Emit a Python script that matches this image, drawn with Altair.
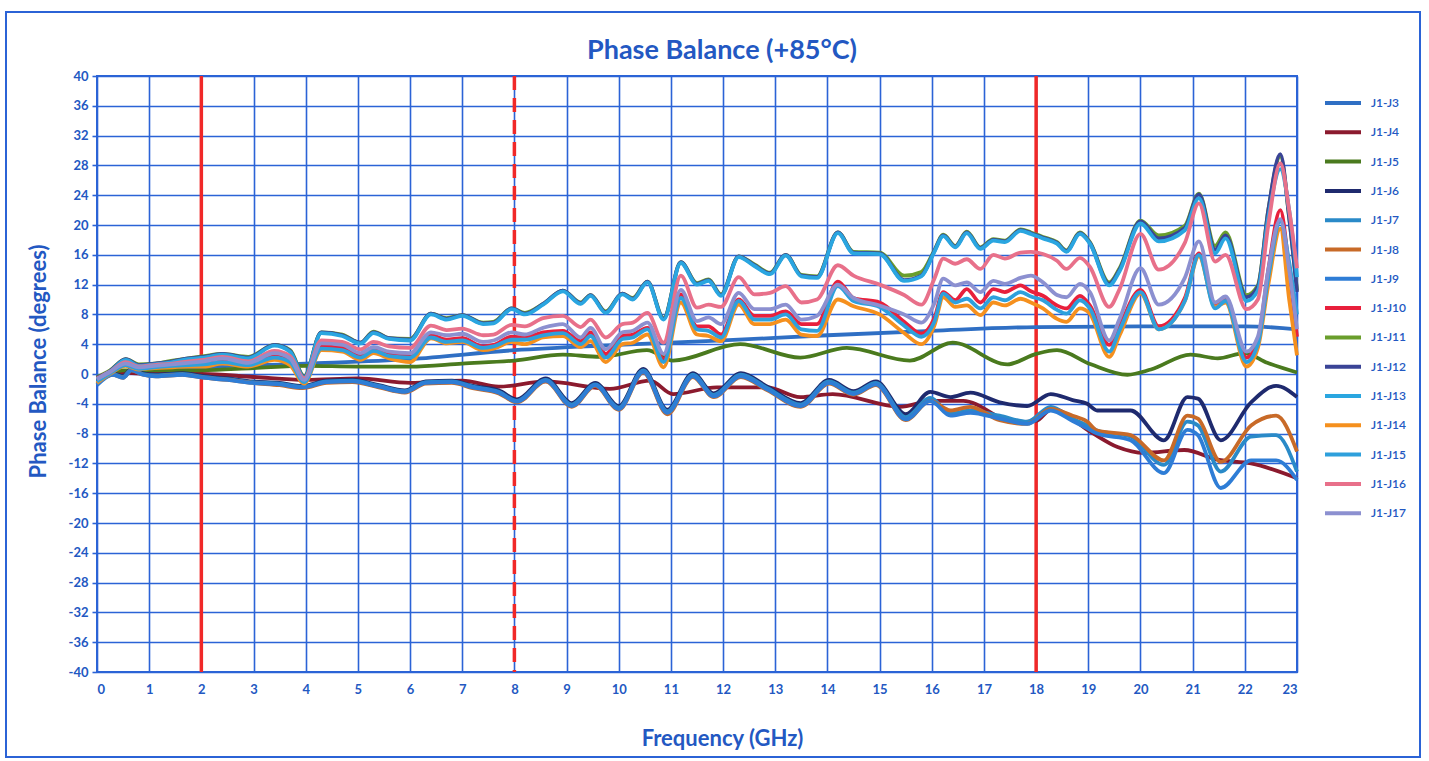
import altair as alt
import pandas as pd

TITLE = "Phase Balance (+85°C)"
SERIES = ["J1-J3", "J1-J4", "J1-J5", "J1-J6", "J1-J7", "J1-J8", "J1-J9", "J1-J10",
          "J1-J11", "J1-J12", "J1-J13", "J1-J14", "J1-J15", "J1-J16", "J1-J17"]
COLORS = ["#2f6fc4", "#8b1a2e", "#4a7a1e", "#1f2a6e", "#2a8ac8", "#c86a28", "#2e7dd6", "#e8203c",
          "#6a9e2c", "#3a4496", "#2aa6e0", "#f5901e", "#2ea0dc", "#e8708a", "#8c90d0"]

X_TICKS = list(range(0, 24))
Y_TICKS = list(range(-40, 41, 4))
REF_SOLID = [2, 18]
REF_DASH = [8]

# upper group frequency grid (GHz)
F_UP = [0.0, 0.25, 0.55, 0.8, 1.1, 1.45, 1.75, 2.05, 2.4, 2.9, 3.4, 3.7, 3.97, 4.3, 4.7, 5.05, 5.3, 5.6, 6.0,
        6.4, 6.7, 7.0, 7.4, 7.6, 7.95, 8.2, 8.55, 8.93, 9.27, 9.46, 9.75, 10.07, 10.27, 10.55, 10.86, 11.19,
        11.5, 11.72, 11.96, 12.3, 12.6, 12.9, 13.2, 13.5, 13.8, 14.2, 14.5, 15.0, 15.47, 15.8, 16.05, 16.22,
        16.45, 16.67, 16.93, 17.18, 17.4, 17.7, 17.9, 18.13, 18.4, 18.58, 18.84, 19.03, 19.4, 19.6, 20.0,
        20.35, 20.85, 21.12, 21.43, 21.63, 22.03, 22.25, 22.45, 22.68, 22.85, 23.0]

J10 = [-0.8, 0.2, 1.3, 0.8, 1.0, 1.2, 1.3, 1.4, 1.8, 1.3, 2.4, 1.8, -1.0, 3.7, 3.5, 2.4, 3.3, 2.6, 2.4, 5.2,
       4.6, 4.8, 3.7, 3.9, 5.0, 4.9, 5.6, 5.8, 4.4, 5.6, 2.7, 5.1, 5.3, 6.2, 2.0, 10.7, 6.4, 6.4, 5.3, 10.0,
       7.8, 7.8, 8.4, 6.7, 6.7, 12.4, 10.2, 9.6, 7.0, 5.4, 7.5, 11.0, 9.9, 11.4, 9.6, 11.4, 11.0, 11.9, 11.1, 10.5,
       9.2, 8.8, 10.5, 9.2, 3.9, 6.5, 11.3, 6.4, 10.2, 16.2, 9.3, 10.2, 2.2, 4.5, 14.0, 22.0, 14.0, 5.0]
J11 = [-0.4, 0.5, 2.0, 1.3, 1.4, 1.8, 2.1, 2.4, 2.7, 2.3, 3.9, 3.2, -0.3, 5.6, 5.3, 4.2, 5.7, 4.8, 4.7, 8.1,
       7.5, 7.9, 6.9, 7.0, 8.8, 8.2, 9.4, 11.2, 9.6, 10.6, 8.4, 10.8, 10.2, 12.4, 7.5, 15.0, 12.2, 12.7, 10.7, 15.8,
       14.7, 13.6, 16.0, 13.3, 13.1, 19.0, 16.4, 16.3, 13.2, 13.7, 16.6, 18.7, 17.2, 19.1, 17.0, 18.1, 17.9, 19.4, 19.0, 18.4,
       17.7, 16.6, 19.0, 17.7, 12.3, 14.2, 20.6, 18.6, 19.9, 24.2, 17.2, 19.0, 10.6, 11.9, 22.0, 29.2, 21.0, 11.2]
J12 = [-0.5, 0.4, 2.0, 1.2, 1.4, 1.7, 2.1, 2.3, 2.7, 2.2, 3.9, 3.1, -0.4, 5.6, 5.2, 4.2, 5.6, 4.8, 4.6, 8.1,
       7.4, 7.9, 6.8, 6.9, 8.8, 8.1, 9.4, 11.2, 9.5, 10.6, 8.3, 10.8, 10.1, 12.4, 7.4, 15.0, 12.1, 12.6, 10.6, 15.8,
       14.6, 13.5, 16.0, 13.2, 13.0, 19.0, 16.3, 16.2, 12.6, 13.2, 16.5, 18.6, 17.1, 19.0, 16.9, 18.0, 17.8, 19.3, 18.9, 18.3,
       17.6, 16.5, 18.9, 17.6, 12.1, 14.0, 20.5, 18.2, 19.6, 24.1, 16.7, 18.6, 10.3, 11.7, 22.0, 29.5, 21.0, 11.0]
J13 = [-0.8, 0.3, 1.9, 1.1, 1.3, 1.6, 2.0, 2.2, 2.6, 2.1, 3.8, 3.0, -0.5, 5.5, 5.1, 4.1, 5.5, 4.7, 4.5, 8.0,
       7.3, 7.8, 6.7, 6.8, 8.7, 8.0, 9.3, 11.1, 9.4, 10.5, 8.2, 10.7, 10.0, 12.3, 7.3, 14.9, 12.0, 12.5, 10.5, 15.7,
       14.5, 13.4, 15.9, 13.1, 12.9, 18.9, 16.2, 16.1, 12.5, 13.1, 16.4, 18.5, 17.0, 18.9, 16.8, 17.9, 17.7, 19.2, 18.8, 18.2,
       17.5, 16.4, 18.8, 17.5, 11.9, 13.8, 20.2, 17.8, 19.3, 23.6, 16.2, 18.2, 9.8, 11.2, 21.0, 27.5, 22.0, 13.0]
J14 = [-1.2, 0.0, 1.1, 0.6, 0.8, 0.9, 1.0, 1.0, 1.4, 1.0, 1.9, 1.2, -1.3, 3.2, 3.0, 1.9, 2.8, 2.1, 1.6, 4.8,
       4.1, 4.3, 3.2, 3.4, 4.3, 4.0, 4.9, 5.1, 3.6, 4.4, 1.6, 4.0, 4.2, 5.3, 0.9, 9.6, 5.3, 5.1, 4.4, 9.3,
       6.7, 6.7, 7.3, 5.3, 5.1, 10.0, 9.1, 8.0, 5.5, 4.0, 6.5, 10.3, 9.0, 9.2, 7.9, 9.6, 9.2, 10.1, 9.6, 8.8,
       7.4, 7.0, 8.8, 8.1, 2.3, 5.2, 10.8, 6.0, 9.8, 15.8, 9.0, 9.6, 1.0, 3.5, 12.0, 19.5, 10.0, 2.5]
J15 = [-1.0, 0.1, 1.2, 0.7, 0.9, 1.1, 1.2, 1.3, 1.6, 1.2, 2.2, 1.6, -1.1, 3.4, 3.2, 2.2, 3.1, 2.4, 2.2, 4.9,
       4.3, 4.5, 3.5, 3.7, 4.6, 4.6, 5.2, 5.5, 4.0, 5.1, 2.2, 4.7, 4.9, 6.0, 1.6, 10.2, 6.0, 5.8, 4.9, 9.8,
       7.3, 7.3, 8.0, 6.0, 5.8, 11.8, 9.8, 9.0, 6.5, 5.0, 7.0, 10.8, 9.6, 10.1, 8.8, 10.3, 9.9, 11.0, 10.4, 9.9,
       8.6, 8.1, 9.9, 8.8, 3.0, 5.9, 11.0, 6.0, 9.8, 16.0, 8.8, 9.8, 1.6, 4.0, 13.0, 20.5, 15.0, 8.0]
J16 = [-0.6, 0.3, 1.6, 1.0, 1.2, 1.4, 1.7, 1.9, 2.3, 1.7, 3.1, 2.4, -0.6, 4.5, 4.3, 3.3, 4.3, 3.7, 3.5, 6.5,
       5.9, 6.1, 5.2, 5.3, 6.6, 6.4, 7.5, 7.8, 6.3, 7.3, 4.9, 6.7, 6.9, 8.2, 4.2, 13.2, 8.9, 9.3, 9.0, 13.0,
       10.7, 10.9, 11.8, 9.6, 10.0, 14.6, 13.2, 12.0, 10.6, 9.3, 12.8, 15.5, 14.8, 15.4, 14.1, 16.0, 15.5, 16.3, 16.4, 16.1,
       15.2, 14.1, 15.6, 14.4, 9.0, 11.4, 18.8, 14.0, 17.6, 22.9, 15.1, 16.0, 8.7, 10.0, 20.0, 28.3, 22.0, 14.2]
J17 = [-0.7, 0.3, 1.4, 0.9, 1.1, 1.3, 1.5, 1.7, 2.1, 1.5, 2.8, 2.1, -0.8, 4.1, 3.9, 2.8, 3.6, 3.0, 2.8, 5.6,
       5.2, 5.4, 4.3, 4.5, 5.6, 5.3, 6.2, 6.7, 4.9, 6.2, 3.3, 5.6, 5.8, 6.9, 2.7, 11.3, 7.1, 7.6, 6.7, 10.9,
       8.7, 8.7, 9.3, 7.3, 7.8, 12.0, 10.2, 9.2, 8.0, 6.9, 9.5, 12.8, 11.9, 12.3, 11.0, 12.5, 12.1, 12.9, 13.2, 12.3,
       10.6, 10.3, 12.1, 11.0, 4.5, 7.4, 14.2, 9.3, 12.9, 17.8, 9.6, 10.4, 3.0, 5.0, 14.0, 20.8, 14.0, 6.0]

# lower group frequency grid (GHz)
F_LO = [0.0, 0.3, 0.5, 0.66, 0.88, 1.13, 1.64, 2.03, 2.5, 2.98, 3.5, 3.94, 4.4, 4.9, 5.4, 5.9, 6.3, 6.8, 7.2,
        7.7, 8.05, 8.6, 9.1, 9.55, 10.0, 10.47, 10.93, 11.42, 11.82, 12.34, 12.85, 13.49, 14.03, 14.5, 14.93,
        15.5, 15.97, 16.36, 16.74, 17.3, 17.83, 18.28, 18.7, 18.98, 19.17, 19.81, 20.45, 20.9, 21.1, 21.54,
        22.12, 22.6, 23.0]
J6 = [-1.0, 0.1, -0.3, 0.7, 0.1, -0.1, 0.1, -0.3, -0.6, -1.0, -1.2, -1.6, -0.9, -0.8, -1.5, -2.2, -1.0, -0.9,
      -1.6, -2.2, -3.4, -0.6, -3.9, -1.2, -4.3, 0.7, -4.8, 0.1, -2.6, 0.1, -1.7, -3.9, -0.8, -2.3, -1.0, -5.4,
      -2.4, -3.1, -2.5, -3.8, -4.3, -2.7, -3.5, -4.0, -4.9, -4.9, -8.9, -3.1, -3.3, -8.9, -3.8, -1.6, -3.1]
J7 = [-1.2, 0.0, -0.4, 0.6, 0.0, -0.2, 0.0, -0.4, -0.7, -1.1, -1.3, -1.7, -1.0, -0.9, -1.6, -2.3, -1.1, -1.0,
      -1.7, -2.4, -3.6, -0.8, -4.1, -1.4, -4.5, 0.5, -5.0, -0.1, -2.8, -0.1, -1.9, -4.1, -1.0, -2.5, -1.2, -5.8,
      -3.2, -5.3, -4.9, -5.6, -6.4, -4.4, -6.0, -6.9, -7.6, -8.4, -12.2, -6.4, -6.9, -13.1, -8.4, -8.2, -13.1]
J8 = [-1.3, -0.1, -0.5, 0.5, -0.1, -0.3, -0.1, -0.5, -0.8, -1.2, -1.5, -1.9, -1.2, -1.1, -1.8, -2.5, -1.3, -1.2,
      -1.9, -2.6, -3.8, -1.0, -4.4, -1.6, -4.8, 0.2, -5.4, -0.4, -3.1, -0.4, -2.2, -4.4, -1.3, -2.8, -1.5, -6.2,
      -3.6, -4.9, -4.4, -6.2, -6.7, -4.7, -5.6, -6.4, -7.6, -8.2, -11.6, -5.6, -6.0, -11.8, -6.9, -5.6, -10.4]
J9 = [-1.5, -0.1, -0.5, 0.5, -0.1, -0.3, -0.1, -0.5, -0.8, -1.2, -1.4, -1.8, -1.1, -1.0, -1.7, -2.4, -1.2, -1.1,
      -1.8, -2.5, -3.7, -0.9, -4.3, -1.5, -4.7, 0.3, -5.2, -0.3, -3.0, -0.3, -2.1, -4.3, -1.2, -2.7, -1.4, -6.1,
      -3.6, -5.6, -5.2, -6.0, -6.7, -4.9, -6.3, -7.3, -8.0, -8.9, -13.3, -7.5, -8.2, -15.3, -11.6, -11.6, -14.2]

F_J3 = [0, 0.5, 1, 2, 4, 6, 8, 10, 12, 14, 16, 18, 20, 22, 23]
J3 = [-0.5, 0.3, 0.4, 0.9, 1.4, 2.0, 3.2, 3.9, 4.5, 5.2, 5.8, 6.3, 6.4, 6.4, 6.0]

F_J4 = [0, 0.5, 1.0, 2.0, 3.0, 4.0, 5.0, 6.0, 7.0, 7.7, 8.6, 9.83, 10.6, 11.04, 11.88, 12.84, 13.48, 14.1,
        15.39, 16.0, 16.6, 17.6, 18.0, 18.3, 19.05, 19.56, 20.07, 20.84, 21.48, 22.12, 23.0]
J4 = [-0.8, 0.2, 0.0, 0.0, -0.4, -0.8, -0.6, -1.2, -0.9, -1.7, -1.0, -2.0, -0.9, -2.7, -1.8, -1.8, -3.1, -2.7,
      -4.4, -3.6, -3.6, -6.5, -6.3, -4.7, -7.8, -9.8, -10.6, -10.2, -11.5, -12.0, -14.0]

F_J5 = [0, 0.5, 1, 2, 3, 4, 5, 6, 7, 8, 8.93, 9.64, 10.54, 11.04, 12.33, 13.48, 14.37, 15.58, 16.4, 17.45,
        18.0, 18.4, 19.05, 19.75, 20.2, 20.96, 21.48, 21.99, 22.43, 23.0]
J5 = [-0.5, 0.5, 0.5, 0.5, 0.8, 1.1, 1.0, 1.0, 1.4, 1.8, 2.6, 2.3, 3.2, 1.8, 4.0, 2.2, 3.5, 1.8, 4.2, 1.3,
      2.7, 3.2, 1.3, -0.1, 0.6, 2.6, 2.1, 2.8, 1.5, 0.2]

SERIES_DATA = {
    "J1-J3": (F_J3, J3), "J1-J4": (F_J4, J4), "J1-J5": (F_J5, J5),
    "J1-J6": (F_LO, J6), "J1-J7": (F_LO, J7), "J1-J8": (F_LO, J8), "J1-J9": (F_LO, J9),
    "J1-J10": (F_UP, J10), "J1-J11": (F_UP, J11), "J1-J12": (F_UP, J12), "J1-J13": (F_UP, J13),
    "J1-J14": (F_UP, J14), "J1-J15": (F_UP, J15), "J1-J16": (F_UP, J16), "J1-J17": (F_UP, J17),
}

rows = []
for name in SERIES:
    xs, ys = SERIES_DATA[name]
    for x, y in zip(xs, ys):
        rows.append({"series": name, "freq": x, "phase": y})
df = pd.DataFrame(rows)

BLUE = "#2358c2"
GRID = "#2b63d6"
FONT = "Lato"
PLAIN_LABEL = "'' + datum.value"

x_enc = alt.X("freq:Q", scale=alt.Scale(domain=[0, 23], nice=False, zero=False),
              axis=alt.Axis(values=X_TICKS, title="Frequency (GHz)", grid=True, ticks=False,
                            labelPadding=11, titleX=625, titleY=66, titleBaseline="middle"))
y_enc = alt.Y("phase:Q", scale=alt.Scale(domain=[-40, 40], nice=False),
              axis=alt.Axis(values=Y_TICKS, title="Phase Balance (degrees)", grid=True, ticks=True,
                            tickSize=5, labelPadding=4, labelExpr=PLAIN_LABEL,
                            titleX=-59, titleY=285, titleBaseline="middle"))
color_enc = alt.Color("series:N", scale=alt.Scale(domain=SERIES, range=COLORS),
                      legend=alt.Legend(title=None, orient="none", legendX=1232, legendY=13,
                                        symbolType="M-1.5,0H1.5", symbolSize=576, symbolStrokeWidth=4,
                                        labelFontSize=12, labelColor=BLUE, labelFont=FONT,
                                        labelFontWeight=600, rowPadding=7.3, labelOffset=14))

layers = []
for name in SERIES:
    layers.append(
        alt.Chart(df).transform_filter(alt.datum.series == name)
        .mark_line(strokeWidth=3.8, interpolate="monotone")
        .encode(x=x_enc, y=y_enc, color=color_enc, order="freq:Q")
    )

solid = alt.Chart(pd.DataFrame({"freq": REF_SOLID})).mark_rule(color="#f02828", strokeWidth=3.5).encode(
    x=alt.X("freq:Q"))
dashed = alt.Chart(pd.DataFrame({"freq": REF_DASH})).mark_rule(
    color="#f02828", strokeWidth=3.5, strokeDash=[14, 8]).encode(x=alt.X("freq:Q"))

border = alt.Chart(pd.DataFrame({"a": [0]})).mark_rect(
    fillOpacity=0, stroke=GRID, strokeWidth=2).encode(
    x=alt.value(-91), x2=alt.value(1323), y=alt.value(-64), y2=alt.value(681))

title = alt.Chart(pd.DataFrame({"t": [TITLE]})).mark_text(
    font=FONT, fontSize=27, fontWeight="bold", color=BLUE, align="center", baseline="middle").encode(
    text="t:N", x=alt.value(625), y=alt.value(-25))

chart = alt.layer(border, title, solid, dashed, *layers).properties(
    width=1200, height=596,
    padding={"left": 97, "top": 76, "right": 132, "bottom": 89},
    autosize=alt.AutoSizeParams(type="none"),
).configure_view(stroke=GRID, strokeWidth=2).configure_axis(
    gridColor=GRID, gridWidth=1.6, gridOpacity=1, domain=False, tickColor=GRID, tickWidth=1.6,
    labelColor=BLUE, labelFont=FONT, labelFontSize=13, labelFontWeight="bold",
    titleColor=BLUE, titleFont=FONT, titleFontSize=22, titleFontWeight="bold",
)

chart.save("out.html", embed_options={"renderer": "svg", "actions": False})
